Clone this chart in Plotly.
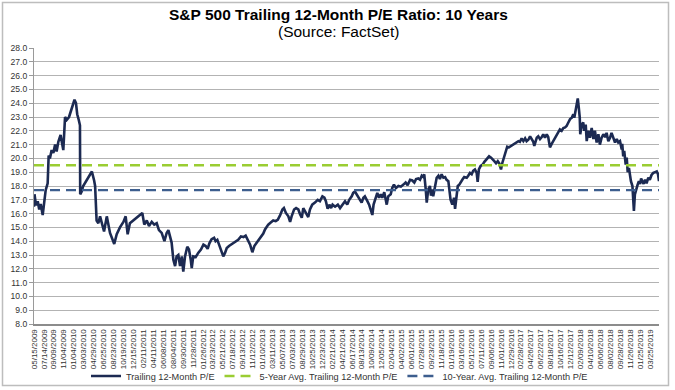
import plotly.graph_objects as go

# ---------------- data ----------------
# trading-day number counted from 05/15/2009 (tick labels are every 40 trading days)
day_idx = [
    0, 2, 8, 15, 21, 27, 35, 41, 47, 55, 59, 64, 71, 78, 85, 91, 98, 107, 114, 118,
    125, 132, 141, 148, 156, 163, 169, 174, 180, 185, 186, 192, 198, 209, 219, 228, 233, 242, 246, 252,
    259, 266, 273, 282, 293, 299, 306, 323, 333, 346, 360, 369, 377, 386, 400, 413, 427, 436, 444, 454,
    463, 474, 484, 494, 503, 514, 525, 534, 541, 547, 554, 561, 568, 574, 581, 588, 595, 601, 608, 617,
    624, 631, 635, 641, 651, 661, 672, 682, 691, 699, 706, 715, 725, 731, 738, 745, 753, 762, 769, 776,
    785, 793, 802, 812, 822, 833, 843, 852, 860, 870, 879, 887, 897, 906, 914, 923, 930, 937, 943, 953,
    963, 973, 981, 990, 1000, 1006, 1014, 1024, 1031, 1037, 1047, 1055, 1064, 1071, 1078, 1084, 1091, 1098, 1104, 1111,
    1120, 1131, 1142, 1151, 1161, 1169, 1175, 1182, 1189, 1196, 1202, 1212, 1223, 1232, 1241, 1252, 1261, 1269, 1279, 1285,
    1292, 1299, 1306, 1312, 1319, 1326, 1332, 1342, 1349, 1355, 1362, 1367, 1376, 1382, 1389, 1396, 1402, 1410, 1420, 1426,
    1436, 1442, 1449, 1457, 1467, 1477, 1487, 1496, 1504, 1514, 1523, 1531, 1538, 1547, 1554, 1561, 1567, 1571, 1577, 1581,
    1587, 1594, 1598, 1603, 1607, 1614, 1621, 1628, 1634, 1641, 1648, 1655, 1661, 1668, 1672, 1677, 1684, 1691, 1695, 1702,
    1706, 1712, 1719, 1726, 1732, 1742, 1748, 1755, 1762, 1768, 1775, 1782, 1786, 1791, 1798, 1806, 1813, 1820, 1826, 1832,
    1840, 1847, 1853, 1860, 1867, 1873, 1880, 1885, 1892, 1899, 1905, 1912, 1920, 1929, 1936, 1943, 1950, 1956, 1963, 1970,
    1977, 1983, 1990, 1997, 2004, 2010, 2014, 2020, 2024, 2030, 2037, 2044, 2050, 2057, 2064, 2070, 2077, 2084, 2090, 2097,
    2104, 2111, 2117, 2124, 2131, 2138, 2144, 2151, 2158, 2165, 2171, 2175, 2181, 2185, 2189, 2193, 2197, 2199, 2205, 2211,
    2215, 2221, 2225, 2231, 2238, 2245, 2252, 2258, 2265, 2272, 2278, 2285, 2292, 2299, 2305, 2312, 2319, 2325, 2332, 2339,
    2346, 2352, 2359, 2366, 2368, 2372, 2376, 2382, 2386, 2390, 2395, 2399, 2403, 2409, 2413, 2415, 2419, 2423, 2430, 2435,
    2440, 2444, 2449, 2454, 2460, 2466, 2473, 2479, 2486, 2493, 2500, 2507, 2512, 2516,
]
trailing_pe = [
    16.5, 17.4, 16.6, 16.9, 16.3, 16.7, 15.9, 16.8, 17.7, 18.2, 20.2, 20.0, 20.6, 20.4, 21.0, 20.5, 21.2, 21.7, 21.0, 20.6,
    23.0, 22.8, 23.0, 23.4, 24.0, 24.25, 24.0, 23.2, 22.8, 22.4, 17.4, 17.6, 18.0, 18.3, 18.6, 18.9, 19.05, 18.4, 18.0, 15.5,
    15.3, 15.8, 15.3, 14.7, 15.8, 15.3, 14.6, 13.8, 14.5, 15.0, 15.4, 15.8, 14.5, 15.3, 15.5, 15.7, 15.9, 16.05, 15.2, 15.5,
    15.1, 15.4, 15.2, 15.3, 14.8, 14.6, 14.0, 14.6, 14.8, 14.35, 13.9, 12.65, 12.2, 12.9, 13.0, 12.2, 12.9, 11.8, 12.9, 13.6,
    13.4, 12.65, 12.05, 12.9, 12.85, 13.15, 13.4, 13.75, 13.65, 13.45, 13.85, 14.15, 14.25, 14.0, 14.1, 13.75, 13.4, 12.9, 13.15, 13.5,
    13.65, 13.75, 13.9, 14.0, 14.1, 14.35, 14.3, 14.4, 14.1, 13.75, 13.2, 13.65, 13.9, 14.1, 14.35, 14.55, 14.85, 15.05, 15.2, 15.35,
    15.5, 15.45, 15.55, 15.85, 16.3, 16.4, 16.05, 15.8, 15.4, 15.8, 16.3, 16.4, 16.3, 15.95, 15.7, 16.4, 16.15, 15.95, 15.75, 16.3,
    16.65, 16.8, 17.0, 16.9, 17.25, 17.15, 16.9, 16.35, 16.65, 16.4, 16.65, 16.5, 16.65, 16.4, 16.65, 16.9, 16.65, 17.0, 17.25, 17.5,
    17.6, 17.4, 17.25, 17.0, 16.8, 17.15, 17.25, 16.9, 16.65, 16.3, 15.9, 16.65, 17.15, 17.5, 17.15, 17.4, 17.15, 17.55, 16.65, 17.25,
    17.4, 17.85, 18.1, 17.85, 18.0, 17.95, 18.1, 18.25, 18.05, 18.45, 18.4, 18.25, 18.5, 18.55, 18.45, 18.75, 18.65, 18.85, 17.75, 16.8,
    17.75, 18.0, 17.3, 17.75, 17.25, 18.0, 18.6, 18.75, 18.5, 18.85, 18.6, 18.65, 18.45, 18.35, 17.75, 17.0, 16.65, 17.15, 16.35, 17.25,
    18.0, 18.1, 18.35, 18.5, 18.65, 18.6, 18.75, 18.95, 18.85, 19.1, 19.2, 18.95, 18.3, 19.2, 19.45, 19.55, 19.75, 19.9, 20.05, 20.15,
    20.05, 19.95, 19.8, 19.65, 19.8, 19.65, 19.2, 19.65, 20.05, 20.4, 20.85, 20.8, 20.9, 21.0, 21.1, 21.2, 21.25, 21.2, 21.45, 21.25,
    21.45, 21.25, 21.35, 21.6, 21.4, 21.2, 20.9, 21.35, 21.5, 21.6, 21.4, 21.55, 21.75, 21.5, 21.75, 21.55, 20.8, 21.05, 21.25, 21.5,
    21.75, 22.0, 22.1, 22.0, 22.2, 22.25, 22.35, 22.6, 22.85, 22.95, 23.2, 22.95, 23.45, 23.9, 24.35, 23.7, 22.95, 21.75, 22.45, 22.6,
    22.0, 22.45, 21.25, 22.0, 21.5, 22.2, 21.4, 22.0, 21.15, 21.75, 21.0, 21.5, 21.75, 21.55, 21.85, 21.25, 21.5, 21.85, 21.4, 21.15,
    21.4, 21.15, 21.25, 20.65, 21.05, 20.15, 20.55, 19.55, 20.05, 19.0, 19.3, 18.7, 18.35, 18.0, 17.0, 16.2, 17.4, 17.75, 18.1, 18.35,
    18.15, 18.55, 18.35, 18.15, 18.45, 18.2, 18.6, 18.45, 18.8, 18.95, 19.0, 19.05, 18.85, 18.35,
]
avg_5yr = 19.5
avg_10yr = 17.7

tick_labels = [
    "05/15/2009", "07/14/2009", "09/09/2009", "11/04/2009", "01/04/2010", "03/03/2010", "04/29/2010",
    "06/25/2010", "08/23/2010", "10/19/2010", "12/15/2010", "02/11/2011", "04/11/2011", "06/08/2011",
    "08/04/2011", "09/30/2011", "11/28/2011", "01/26/2012", "03/23/2012", "05/21/2012", "07/18/2012",
    "09/13/2012", "11/12/2012", "01/10/2013", "03/11/2013", "05/07/2013", "07/03/2013", "08/29/2013",
    "10/25/2013", "12/23/2013", "02/21/2014", "04/21/2014", "06/17/2014", "08/13/2014", "10/09/2014",
    "12/05/2014", "02/04/2015", "04/02/2015", "06/01/2015", "07/28/2015", "09/23/2015", "11/18/2015",
    "01/19/2016", "03/16/2016", "05/12/2016", "07/11/2016", "09/06/2016", "11/01/2016", "12/29/2016",
    "02/28/2017", "04/26/2017", "06/22/2017", "08/18/2017", "10/16/2017", "12/12/2017", "02/09/2018",
    "04/10/2018", "06/06/2018", "08/02/2018", "09/28/2018", "11/26/2018", "01/25/2019", "03/25/2019",
]
label_step = 40  # trading days between tick labels

# ---------------- figure ----------------
W, H = 675, 390
ml, mr, mt, mb = 34, 16, 48, 66
pw, ph = W - ml - mr, H - mt - mb
FONT = "Liberation Sans, Arial, sans-serif"

def px_x(p):
    return (p - ml) / pw

def px_y(p):
    return (H - mb - p) / ph

x_span = [day_idx[0], day_idx[-1]]

fig = go.Figure()
fig.add_trace(go.Scatter(
    x=day_idx, y=trailing_pe, mode="lines", name="Trailing 12-Month P/E",
    line=dict(color="#1c2a52", width=2.6),
))
fig.add_trace(go.Scatter(
    x=x_span, y=[avg_5yr, avg_5yr], mode="lines", name="5-Year Avg. Trailing 12-Month P/E",
    line=dict(color="#9acd32", width=2.4, dash="10px,6px"),
))
fig.add_trace(go.Scatter(
    x=x_span, y=[avg_10yr, avg_10yr], mode="lines", name="10-Year. Avg. Trailing 12-Month P/E",
    line=dict(color="#3d5e8e", width=2.4, dash="10px,6px"),
))

fig.update_layout(
    width=W, height=H,
    margin=dict(l=ml, r=mr, t=mt, b=mb, autoexpand=False),
    paper_bgcolor="white", plot_bgcolor="white",
    font=dict(family=FONT, size=9, color="#333333"),
    showlegend=True,
    legend=dict(orientation="h", xref="container", yref="container",
                x=(W / 2 + 2) / W, xanchor="center", y=1 - 376 / H, yanchor="middle",
                font=dict(size=9.2, color="#333333"), bgcolor="rgba(0,0,0,0)"),
    annotations=[
        dict(text="<b>S&P 500 Trailing 12-Month P/E Ratio: 10 Years</b>", xref="paper", yref="paper",
             x=px_x(338), y=px_y(15), xanchor="center", yanchor="middle", showarrow=False,
             font=dict(family=FONT, size=15.5, color="#000000")),
        dict(text="(Source: FactSet)", xref="paper", yref="paper",
             x=px_x(338), y=px_y(31.5), xanchor="center", yanchor="middle", showarrow=False,
             font=dict(family=FONT, size=15.5, color="#000000")),
    ],
    shapes=[
        dict(type="rect", xref="paper", yref="paper", x0=px_x(2.5), x1=px_x(668.5), y0=px_y(385.5), y1=px_y(2.5),
             line=dict(color="#bdbdbd", width=1.5), layer="below"),
    ],
)

fig.update_xaxes(
    range=x_span, automargin=False,
    tickmode="array",
    tickvals=[i * label_step for i in range(len(tick_labels))],
    ticktext=tick_labels,
    tickangle=-90,
    tickfont=dict(size=8, color="#333333"),
    showgrid=False, zeroline=False,
    showline=True, linecolor="#8c8c8c", linewidth=2,
    ticks="",
)
fig.update_yaxes(
    range=[8, 28], dtick=1, tickformat=".1f", automargin=False,
    tickfont=dict(size=8.6, color="#333333"),
    showgrid=True, gridcolor="#b3b3b3", gridwidth=1,
    zeroline=False,
    showline=True, linecolor="#9a9a9a", linewidth=1,
    ticks="outside", ticklen=4, tickcolor="#9a9a9a",
)

fig.write_html("out.html", config={"displayModeBar": False},
               post_script="document.body.style.margin='0';document.body.style.overflow='hidden';")
